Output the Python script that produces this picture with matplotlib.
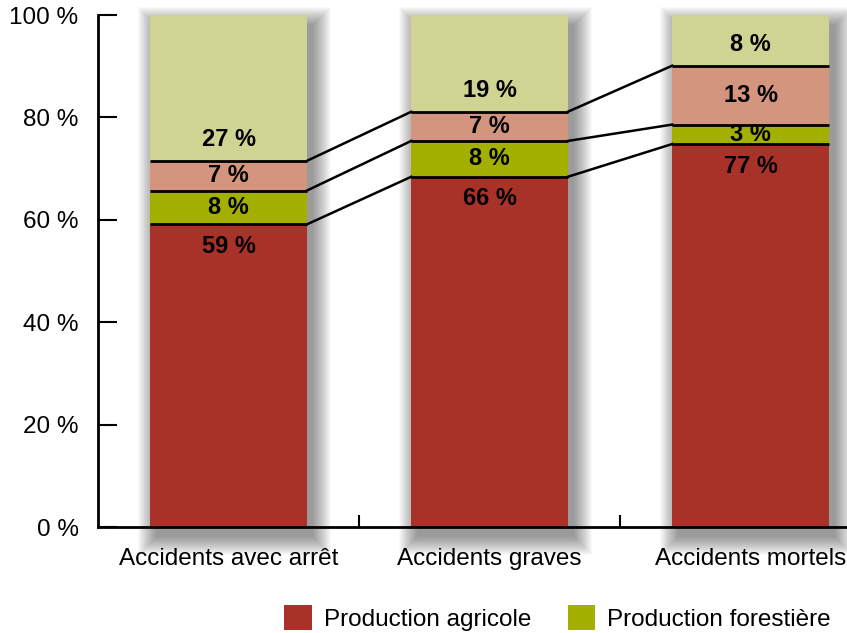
import matplotlib
matplotlib.use("Agg")
import matplotlib.pyplot as plt
from matplotlib.patches import Rectangle, Patch
import numpy as np

plt.rcParams['font.family'] = ['Liberation Sans', 'DejaVu Sans']

categories = ["Accidents avec arrêt", "Accidents graves", "Accidents mortels"]
series_names = ["Production agricole", "Production forestière", "Autre 1", "Autre 2"]
agricole = [59.1, 68.4, 74.8]
forestiere = [6.6, 7.0, 3.8]
autre1 = [5.8, 5.7, 11.5]
autre2 = [28.5, 18.9, 9.9]
label_agricole = ["59 %", "66 %", "77 %"]
label_forestiere = ["8 %", "8 %", "3 %"]
label_autre1 = ["7 %", "7 %", "13 %"]
label_autre2 = ["27 %", "19 %", "8 %"]
yticks = [0, 20, 40, 60, 80, 100]
ytick_labels = ["0 %", "20 %", "40 %", "60 %", "80 %", "100 %"]

colors = ["#A83228", "#A3B000", "#D3957E", "#CFD492"]

W, H = 847, 633
fig = plt.figure(figsize=(W / 100, H / 100), dpi=100)
ax_left = 98 / W
ax_bottom = 1 - 527 / H
ax_w = 783 / W
ax_h = (527 - 15) / H
ax = fig.add_axes([ax_left, ax_bottom, ax_w, ax_h])
ax.set_xlim(-0.5, 2.5)
ax.set_ylim(0, 100)

x = np.arange(len(categories))
bw = 0.6
series = [agricole, forestiere, autre1, autre2]
data = np.array(series)
cum = np.cumsum(data, axis=0)
bottoms = cum - data

# pixel sizes in data units
px_x = 3.0 / 783
px_y = 100.0 / 512

# soft drop shadows
for xi in x:
    total = cum[-1, xi]
    for k in range(0, 19):
        dx, dy = 6 * px_x, -10 * px_y
        r = Rectangle((xi - bw / 2 + dx - k * px_x, 0 + dy - k * px_y),
                      bw + 2 * k * px_x, total + 2 * k * px_y,
                      facecolor="black", edgecolor="none", alpha=0.022,
                      zorder=1, clip_on=False)
        ax.add_patch(r)

for s in range(len(series)):
    ax.bar(x, data[s], bw, bottom=bottoms[s], color=colors[s], zorder=2,
           linewidth=0)

# boundary lines across bars and connectors
for s in range(3):
    tops = cum[s]
    for xi in x:
        ax.plot([xi - bw / 2, xi + bw / 2], [tops[xi], tops[xi]], color="black",
                lw=2, zorder=3, solid_capstyle="butt")
    for xi in x[:-1]:
        ax.plot([xi + bw / 2, xi + 1 - bw / 2], [tops[xi], tops[xi + 1]],
                color="black", lw=1.8, zorder=3)

# value labels
fs_val = 17
for xi in x:
    ax.text(xi, cum[0, xi] - 4.3, label_agricole[xi], ha="center", va="center",
            fontsize=fs_val, fontweight="bold", zorder=4)
    ax.text(xi, bottoms[1, xi] + data[1, xi] / 2, label_forestiere[xi], ha="center",
            va="center", fontsize=fs_val, fontweight="bold", zorder=4)
    ax.text(xi, bottoms[2, xi] + data[2, xi] / 2, label_autre1[xi], ha="center",
            va="center", fontsize=fs_val, fontweight="bold", zorder=4)
    ax.text(xi, bottoms[3, xi] + 4.2, label_autre2[xi], ha="center", va="center",
            fontsize=fs_val, fontweight="bold", zorder=4)

for sp in ["top", "right"]:
    ax.spines[sp].set_visible(False)
for sp in ["left", "bottom"]:
    ax.spines[sp].set_linewidth(2)
    ax.spines[sp].set_zorder(5)

fs = 17.5
ax.set_yticks(yticks)
ax.set_yticklabels(ytick_labels, fontsize=fs)
ax.tick_params(axis="y", direction="in", length=14, width=1.5, pad=14)
ax.set_xticks(x)
ax.set_xticklabels(categories, fontsize=fs)
ax.tick_params(axis="x", which="major", length=0, pad=15)
ax.set_xticks([0.5, 1.5], minor=True)
ax.tick_params(axis="x", which="minor", direction="in", length=9, width=1.5)

handles = [Patch(facecolor=colors[0]), Patch(facecolor=colors[1])]
fig.legend(handles, series_names[:2], ncol=2, loc="upper left",
           bbox_to_anchor=(282 / W, 1 - 603 / H), frameon=False, fontsize=fs,
           handlelength=1.12, handleheight=1.15, handletextpad=0.5,
           columnspacing=1.5, borderaxespad=0, borderpad=0.1)

fig.savefig("out.png", dpi=100)
